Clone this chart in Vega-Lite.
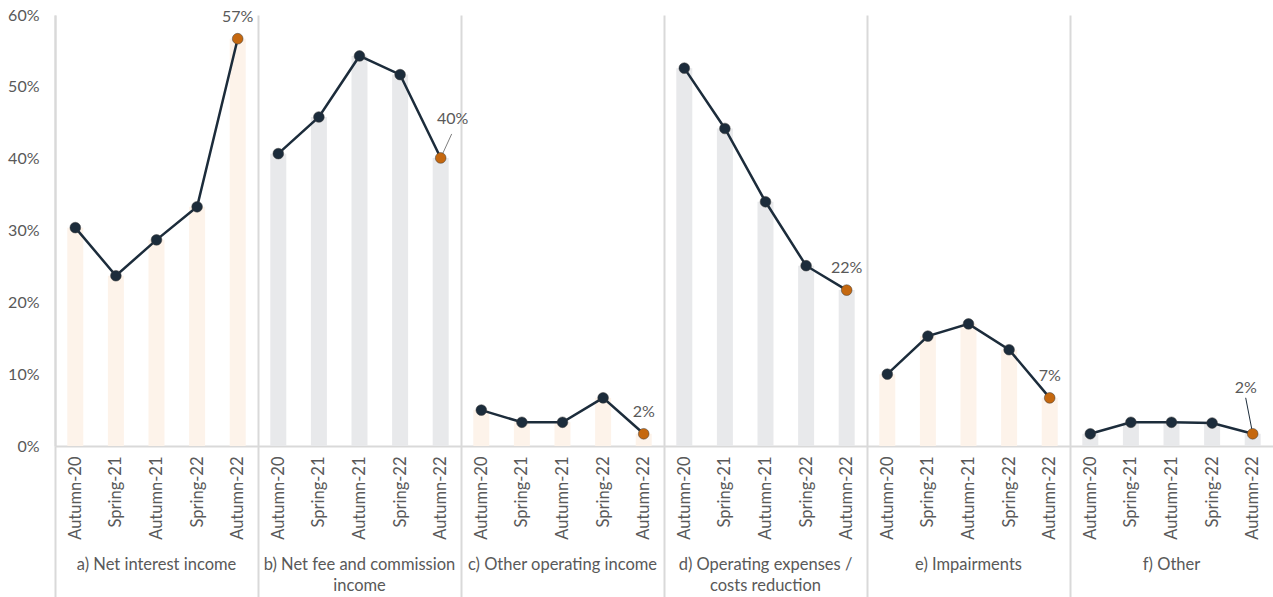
{
  "$schema": "https://vega.github.io/schema/vega-lite/v6.json",
  "autosize": {"type": "none"},
  "padding": {"left": 55, "top": 15, "right": 0, "bottom": 151},
  "width": 1218,
  "height": 431,
  "background": "white",
  "config": {
    "view": {"stroke": null},
    "font": "Lato",
    "text": {"font": "Lato"}
  },
  "data": {
    "values": [
      {"panel": "a", "period": "Autumn-20", "value": 0.304},
      {"panel": "a", "period": "Spring-21", "value": 0.237},
      {"panel": "a", "period": "Autumn-21", "value": 0.287},
      {"panel": "a", "period": "Spring-22", "value": 0.333},
      {"panel": "a", "period": "Autumn-22", "value": 0.567},
      {"panel": "b", "period": "Autumn-20", "value": 0.407},
      {"panel": "b", "period": "Spring-21", "value": 0.458},
      {"panel": "b", "period": "Autumn-21", "value": 0.543},
      {"panel": "b", "period": "Spring-22", "value": 0.517},
      {"panel": "b", "period": "Autumn-22", "value": 0.401},
      {"panel": "c", "period": "Autumn-20", "value": 0.050},
      {"panel": "c", "period": "Spring-21", "value": 0.033},
      {"panel": "c", "period": "Autumn-21", "value": 0.033},
      {"panel": "c", "period": "Spring-22", "value": 0.067},
      {"panel": "c", "period": "Autumn-22", "value": 0.017},
      {"panel": "d", "period": "Autumn-20", "value": 0.526},
      {"panel": "d", "period": "Spring-21", "value": 0.442},
      {"panel": "d", "period": "Autumn-21", "value": 0.340},
      {"panel": "d", "period": "Spring-22", "value": 0.251},
      {"panel": "d", "period": "Autumn-22", "value": 0.217},
      {"panel": "e", "period": "Autumn-20", "value": 0.100},
      {"panel": "e", "period": "Spring-21", "value": 0.153},
      {"panel": "e", "period": "Autumn-21", "value": 0.170},
      {"panel": "e", "period": "Spring-22", "value": 0.134},
      {"panel": "e", "period": "Autumn-22", "value": 0.067},
      {"panel": "f", "period": "Autumn-20", "value": 0.017},
      {"panel": "f", "period": "Spring-21", "value": 0.033},
      {"panel": "f", "period": "Autumn-21", "value": 0.033},
      {"panel": "f", "period": "Spring-22", "value": 0.032},
      {"panel": "f", "period": "Autumn-22", "value": 0.017}
    ]
  },
  "transform": [
    {"calculate": "datum.panel + '|' + datum.period", "as": "key"}
  ],
  "resolve": {"axis": {"x": "independent"}},
  "layer": [
    {
      "mark": {"type": "bar"},
      "encoding": {
        "x": {
          "field": "key", "type": "nominal", "sort": null,
          "scale": {"paddingInner": 0.606, "paddingOuter": 0.303},
          "axis": {
            "orient": "bottom",
            "title": null,
            "domainColor": "#D9D9D9",
            "domainWidth": 2,
            "labelExpr": "split(datum.value, '|')[1]",
            "labelAngle": -90,
            "labelFontSize": 16.5,
            "labelColor": "#595959",
            "labelPadding": -141,
            "labelOffset": 20.3,
            "tickBand": "center",
            "tickOffset": -20.3,
            "tickSize": 151,
            "tickWidth": 2,
            "tickColor": "#D9D9D9",
            "tickOpacity": {"condition": {"test": "indexof(datum.value, 'Autumn-20') >= 0", "value": 1}, "value": 0},
            "grid": true,
            "gridColor": "#D9D9D9",
            "gridWidth": 2,
            "gridOpacity": {"condition": {"test": "indexof(datum.value, 'Autumn-20') >= 0", "value": 1}, "value": 0}
          }
        },
        "y": {
          "field": "value", "type": "quantitative",
          "scale": {"domain": [0, 0.6], "nice": false},
          "axis": {
            "orient": "left",
            "title": null,
            "values": [0, 0.1, 0.2, 0.3, 0.4, 0.5, 0.6],
            "format": ".0%",
            "grid": false,
            "ticks": false,
            "tickSize": 0,
            "domainColor": "#D9D9D9",
            "domainWidth": 2,
            "labelFontSize": 16,
            "labelColor": "#595959",
            "labelPadding": 16,
            "labelLimit": 100
          }
        },
        "color": {
          "field": "panel", "type": "nominal",
          "scale": {"domain": ["a", "b", "c", "d", "e", "f"], "range": ["#FDF3EA", "#E8E9EB", "#FDF3EA", "#E8E9EB", "#FDF3EA", "#E8E9EB"]},
          "legend": null
        }
      }
    },
    {
      "mark": {"type": "line", "color": "#1C2C3B", "strokeWidth": 2.5},
      "encoding": {
        "x": {
          "field": "key", "type": "nominal", "sort": null,
          "axis": {
            "orient": "bottom",
            "title": null,
            "values": ["a|Autumn-21", "b|Autumn-21", "c|Autumn-21", "d|Autumn-21", "e|Autumn-21", "f|Autumn-21"],
            "domain": false,
            "ticks": false,
            "tickSize": 0,
            "grid": false,
            "labelAngle": 0,
            "labelAlign": "center",
            "labelBaseline": "top",
            "labelPadding": 110,
            "labelFontSize": 16.5,
            "labelColor": "#595959",
            "labelLineHeight": 21,
            "labelLimit": 400,
            "labelExpr": "datum.value == 'a|Autumn-21' ? 'a) Net interest income' : datum.value == 'b|Autumn-21' ? ['b) Net fee and commission', 'income'] : datum.value == 'c|Autumn-21' ? 'c) Other operating income' : datum.value == 'd|Autumn-21' ? ['d) Operating expenses /', 'costs reduction'] : datum.value == 'e|Autumn-21' ? 'e) Impairments' : 'f) Other'"
          }
        },
        "y": {"field": "value", "type": "quantitative"},
        "detail": {"field": "panel", "type": "nominal"}
      }
    },
    {
      "transform": [{"filter": "datum.panel == 'b'"}, {"filter": "datum.period == 'Autumn-22'"}],
      "mark": {"type": "rule", "color": "#7F7F7F", "strokeWidth": 1, "y2Offset": -24, "x2Offset": 11},
      "encoding": {
        "x": {"field": "key", "type": "nominal", "sort": null, "axis": null},
        "x2": {"field": "key"},
        "y": {"field": "value", "type": "quantitative"},
        "y2": {"field": "value"}
      }
    },
    {
      "transform": [{"filter": "datum.panel == 'f'"}, {"filter": "datum.period == 'Autumn-22'"}],
      "mark": {"type": "rule", "color": "#1C2C3B", "strokeWidth": 1, "y2Offset": -36, "x2Offset": -7},
      "encoding": {
        "x": {"field": "key", "type": "nominal", "sort": null, "axis": null},
        "x2": {"field": "key"},
        "y": {"field": "value", "type": "quantitative"},
        "y2": {"field": "value"}
      }
    },
    {
      "mark": {"type": "circle", "size": 115, "opacity": 1, "stroke": "#3A3A3A", "strokeWidth": 0.5},
      "encoding": {
        "x": {"field": "key", "type": "nominal", "sort": null, "axis": null},
        "y": {"field": "value", "type": "quantitative"},
        "color": {
          "condition": {"test": "datum.period == 'Autumn-22'", "value": "#C5680F"},
          "value": "#1C2C3B"
        }
      }
    },
    {
      "transform": [{"filter": "datum.period == 'Autumn-22' && datum.panel != 'b' && datum.panel != 'f'"}],
      "mark": {"type": "text", "dy": -22, "fontSize": 16, "color": "#595959", "baseline": "middle"},
      "encoding": {
        "x": {"field": "key", "type": "nominal", "sort": null, "axis": null},
        "y": {"field": "value", "type": "quantitative"},
        "text": {"field": "value", "type": "quantitative", "format": ".0%"}
      }
    },
    {
      "transform": [{"filter": "datum.period == 'Autumn-22' && datum.panel == 'b'"}],
      "mark": {"type": "text", "dy": -39, "dx": 12, "fontSize": 16, "color": "#595959", "baseline": "middle"},
      "encoding": {
        "x": {"field": "key", "type": "nominal", "sort": null, "axis": null},
        "y": {"field": "value", "type": "quantitative"},
        "text": {"field": "value", "type": "quantitative", "format": ".0%"}
      }
    },
    {
      "transform": [{"filter": "datum.period == 'Autumn-22' && datum.panel == 'f'"}],
      "mark": {"type": "text", "dy": -46, "dx": -7, "fontSize": 16, "color": "#595959", "baseline": "middle"},
      "encoding": {
        "x": {"field": "key", "type": "nominal", "sort": null, "axis": null},
        "y": {"field": "value", "type": "quantitative"},
        "text": {"field": "value", "type": "quantitative", "format": ".0%"}
      }
    }
  ]
}
